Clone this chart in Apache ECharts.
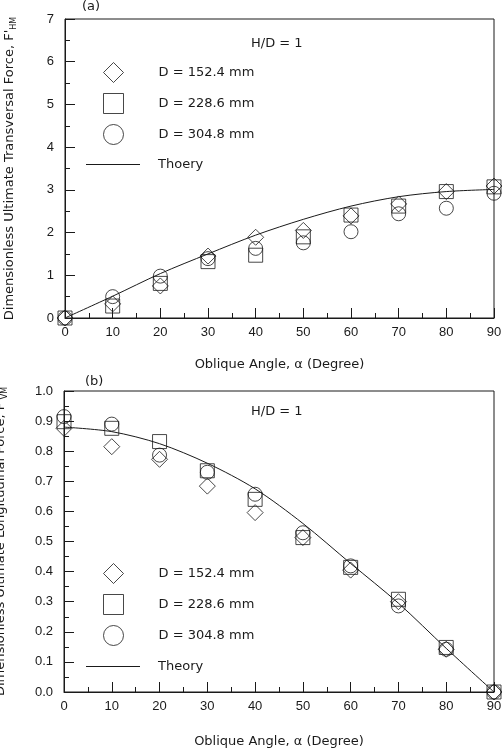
<!DOCTYPE html>
<html>
<head>
<meta charset="utf-8">
<script src="https://cdn.jsdelivr.net/npm/echarts@6/dist/echarts.min.js"></script>
<style>
  html, body { margin: 0; padding: 0; background: #fff; }
  #chart { width: 502px; height: 751px; }
</style>
</head>
<body>
<div id="chart"></div>
<script>
// oblique angle (degree)
const angles = [0, 10, 20, 30, 40, 50, 60, 70, 80, 90]

// (a) transversal force
const transD152 = [0, 0.33, 0.75, 1.45, 1.89, 2.05, 2.39, 2.67, 2.96, 3.09]
const transD228 = [0, 0.28, 0.81, 1.32, 1.47, 1.9, 2.41, 2.62, 2.96, 3.07]
const transD304 = [0, 0.5, 0.98, 1.39, 1.63, 1.76, 2.02, 2.44, 2.57, 2.92]
const transTheory = [0, 0.51, 1.04, 1.5, 1.94, 2.31, 2.62, 2.84, 2.96, 3.01]

// (b) longitudinal force
const longD152 = [0.876, 0.815, 0.773, 0.684, 0.596, 0.513, 0.405, 0.3, 0.142, 0]
const longD228 = [0.898, 0.876, 0.832, 0.735, 0.64, 0.513, 0.414, 0.308, 0.148, 0]
const longD304 = [0.915, 0.89, 0.787, 0.73, 0.657, 0.529, 0.419, 0.286, 0.142, 0]
const longTheory = [0.88, 0.865, 0.825, 0.76, 0.675, 0.56, 0.427, 0.295, 0.145, 0]

const seriesNames = ['D = 152.4 mm', 'D = 228.6 mm', 'D = 304.8 mm']

const ink = '#1a1a1a'
const tickFont = 'Liberation Sans'
const textFont = 'DejaVu Sans'

const pairs = vals => angles.map((a, i) => [a, vals[i]])

function xAxisFor(gridIndex) {
  return {
    type: 'value',
    gridIndex,
    min: 0,
    max: 90,
    interval: 10,
    name: 'Oblique Angle, α (Degree)',
    nameLocation: 'middle',
    nameGap: gridIndex === 0 ? 40 : 43,
    nameTextStyle: { color: ink, fontFamily: textFont, fontSize: 13 },
    axisLine: { lineStyle: { color: ink, width: 1 } },
    axisTick: { inside: true, length: 10, lineStyle: { color: ink } },
    minorTick: { show: true, splitNumber: 2, length: 5, lineStyle: { color: ink } },
    axisLabel: { color: ink, fontFamily: tickFont, fontSize: 13, margin: 8 },
    splitLine: { show: false }
  }
}

function yAxisFor(gridIndex, max, interval, name, gap, digits) {
  return {
    type: 'value',
    gridIndex,
    min: 0,
    max,
    interval,
    name,
    nameLocation: 'middle',
    nameGap: gap,
    nameRotate: 90,
    nameTextStyle: {
      color: ink,
      fontFamily: textFont,
      fontSize: 13,
      rich: {
        sub: { fontSize: 8, fontFamily: textFont, color: ink, padding: [8, 0, 0, 0] }
      }
    },
    axisLine: { lineStyle: { color: ink, width: 1 } },
    axisTick: { inside: true, length: 10, lineStyle: { color: ink } },
    minorTick: { show: true, splitNumber: 2, length: 5, lineStyle: { color: ink } },
    axisLabel: {
      color: ink,
      fontFamily: tickFont,
      fontSize: 13,
      margin: 11,
      formatter: v => v.toFixed(digits)
    },
    splitLine: { show: false }
  }
}

function scatter(name, data, symbol, size, gridIndex) {
  return {
    name,
    type: 'scatter',
    xAxisIndex: gridIndex,
    yAxisIndex: gridIndex,
    symbol,
    symbolSize: size,
    clip: false,
    itemStyle: { color: 'rgba(0,0,0,0)', borderColor: ink, borderWidth: 1 },
    data: pairs(data)
  }
}

function theory(name, data, gridIndex) {
  return {
    name,
    type: 'line',
    xAxisIndex: gridIndex,
    yAxisIndex: gridIndex,
    smooth: 0.3,
    symbol: 'none',
    lineStyle: { color: ink, width: 1 },
    itemStyle: { color: ink },
    data: pairs(data)
  }
}

function markerLegend(top, gridIndex) {
  return {
    orient: 'vertical',
    left: 103,
    top,
    padding: 0,
    itemWidth: 20,
    itemHeight: 20,
    itemGap: 10,
    selectedMode: false,
    itemStyle: { borderWidth: 1, borderColor: ink, color: 'rgba(0,0,0,0)' },
    textStyle: { color: ink, fontFamily: textFont, fontSize: 13, padding: [0, 0, 0, 30] },
    data: seriesNames.map(n => ({ name: n + (gridIndex ? ' ' : '') }))
  }
}

function lineLegend(top, name) {
  return {
    orient: 'vertical',
    left: 86,
    top,
    padding: 0,
    itemWidth: 54,
    itemHeight: 1,
    selectedMode: false,
    itemStyle: { color: ink, borderWidth: 0 },
    textStyle: { color: ink, fontFamily: textFont, fontSize: 13, padding: [0, 0, 0, 13] },
    data: [{ name, icon: 'rect' }]
  }
}

const chart = echarts.init(document.getElementById('chart'))

chart.setOption({
  backgroundColor: '#fff',
  animation: false,
  grid: [
    { left: 65, right: 8, top: 19, height: 299, outerBoundsMode: 'none', containLabel: false, show: true, borderColor: ink, borderWidth: 1, backgroundColor: 'transparent' },
    { left: 64, right: 8, top: 391, height: 301, outerBoundsMode: 'none', containLabel: false, show: true, borderColor: ink, borderWidth: 1, backgroundColor: 'transparent' }
  ],
  xAxis: [xAxisFor(0), xAxisFor(1)],
  yAxis: [
    yAxisFor(0, 7, 1, "Dimensionless Ultimate Transversal Force, F'{sub|HM}", 47, 0),
    yAxisFor(1, 1, 0.1, "Dimensionless Ultimate Longitudinal Force, F'{sub|VM}", 55, 1)
  ],
  legend: [
    markerLegend(62, 0),
    lineLegend(158, 'Thoery'),
    markerLegend(563, 1),
    lineLegend(660, 'Theory')
  ],
  graphic: [
    { type: 'text', left: 82, top: 0, style: { text: '(a)', font: '13px ' + textFont, fill: ink } },
    { type: 'text', left: 85, top: 375, style: { text: '(b)', font: '13px ' + textFont, fill: ink } },
    { type: 'text', left: 251, top: 37, style: { text: 'H/D = 1', font: '13px ' + textFont, fill: ink } },
    { type: 'text', left: 251, top: 405, style: { text: 'H/D = 1', font: '13px ' + textFont, fill: ink } }
  ],
  series: [
    theory('Thoery', transTheory, 0),
    scatter(seriesNames[0], transD152, 'diamond', 16, 0),
    scatter(seriesNames[1], transD228, 'rect', 14, 0),
    scatter(seriesNames[2], transD304, 'circle', 14, 0),
    theory('Theory', longTheory, 1),
    scatter(seriesNames[0] + ' ', longD152, 'diamond', 16, 1),
    scatter(seriesNames[1] + ' ', longD228, 'rect', 14, 1),
    scatter(seriesNames[2] + ' ', longD304, 'circle', 14, 1)
  ]
})
</script>
</body>
</html>
